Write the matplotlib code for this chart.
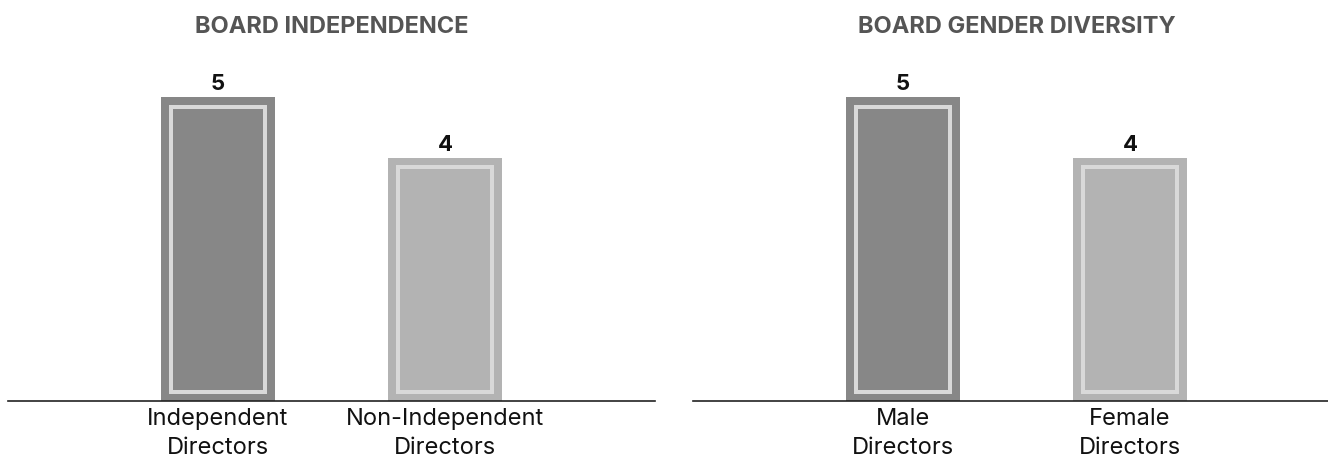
import matplotlib
matplotlib.use("Agg")
import matplotlib.pyplot as plt
from matplotlib.patches import Rectangle

titles = ["BOARD INDEPENDENCE", "BOARD GENDER DIVERSITY"]
categories = [["Independent\nDirectors", "Non-Independent\nDirectors"],
              ["Male\nDirectors", "Female\nDirectors"]]
values = [[5, 4], [5, 4]]
bar_colors = ["#878787", "#b3b3b3"]
inner_color = "#d9d9d9"

plt.rcParams['font.family'] = ['Inter', 'DejaVu Sans']

W, H = 1328, 459
fig = plt.figure(figsize=(W / 100, H / 100), dpi=100)

ax_w = 647 / W
bottom = (H - 401) / H
height = 304 / H
lefts = [8 / W, 693 / W]

for k in range(2):
    ax = fig.add_axes([lefts[k], bottom, ax_w, height])
    x = list(range(len(categories[k])))
    ax.set_xlim(-0.925, 1.925)
    ax.set_ylim(0, 5)
    bars = ax.bar(x, values[k], width=0.5, color=bar_colors, zorder=2)
    fig.canvas.draw()
    bb = ax.get_window_extent()
    px_x = (1.925 + 0.925) / bb.width
    px_y = 5 / bb.height
    inset = 9.5
    for b in bars:
        x0, w = b.get_x(), b.get_width()
        h = b.get_height()
        r = Rectangle((x0 + inset * px_x, inset * px_y),
                      w - 2 * inset * px_x, h - 2 * inset * px_y,
                      fill=False, edgecolor=inner_color, linewidth=4 * 0.72, zorder=3)
        ax.add_patch(r)
        ax.text(x0 + w / 2, h + 3 * px_y, str(int(h)), ha='center', va='bottom',
                fontsize=16, fontweight='bold', color='#111111', clip_on=False)
    ax.set_xticks(x)
    ax.set_xticklabels(categories[k], fontsize=17, color='#111111', linespacing=1.4)
    ax.tick_params(axis='x', length=0, pad=5)
    ax.set_yticks([])
    for s in ['top', 'right', 'left']:
        ax.spines[s].set_visible(False)
    ax.spines['bottom'].set_color('#222222')
    ax.spines['bottom'].set_linewidth(1.2)
    cx = lefts[k] + ax_w / 2
    fig.text(cx, 1 - 27 / H, titles[k], ha='center', va='center',
             fontsize=17, fontweight='bold', color='#555555')

fig.savefig("out.png", dpi=100)
